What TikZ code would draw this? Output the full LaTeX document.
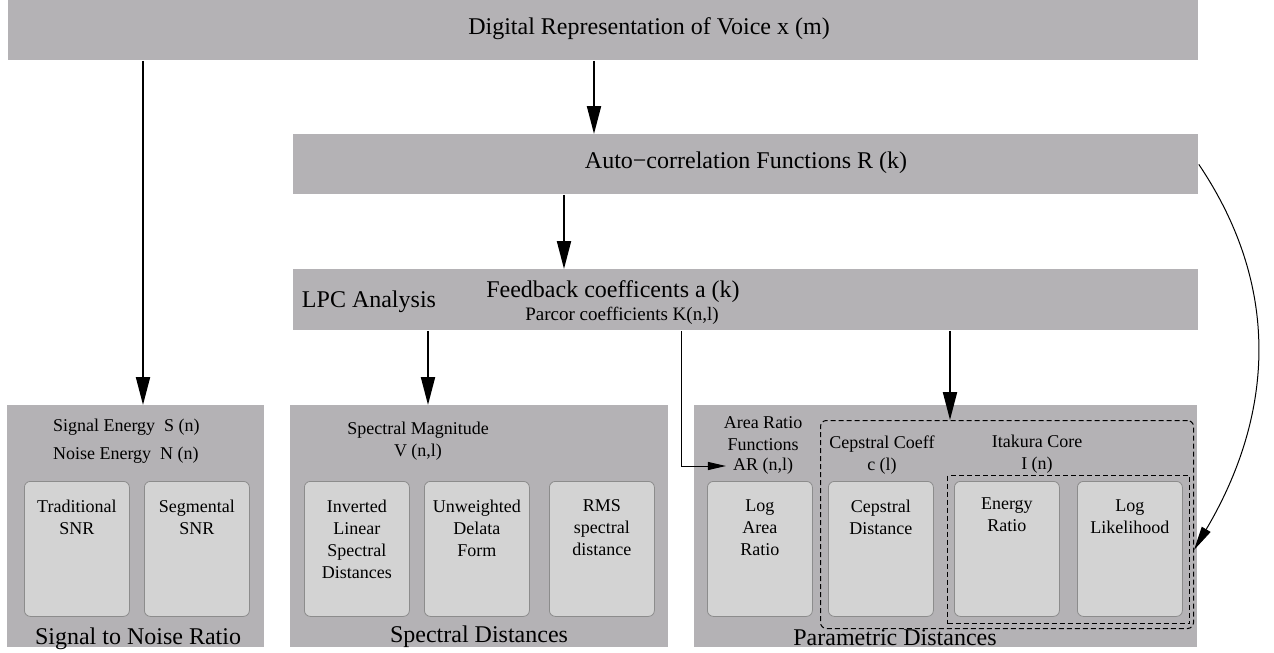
\documentclass[tikz,border=0pt]{standalone}
\usepackage{fontspec}
\setmainfont{Liberation Serif}
\usetikzlibrary{arrows.meta}
\definecolor{boxgray}{RGB}{180,178,181}
\definecolor{cellgray}{RGB}{211,211,211}
\definecolor{cellline}{RGB}{140,140,140}

\begin{document}
\begin{tikzpicture}[x=0.5pt,y=-0.5pt,
  band/.style={fill=boxgray,inner sep=0,anchor=north west},
  cell/.style={fill=cellgray,draw=cellline,line width=0.4pt,rounded corners=3pt,
    inner sep=0,anchor=north west,minimum width=52.5pt,minimum height=67.5pt},
  big/.style={font=\fontsize{12}{14}\selectfont},
  small/.style={font=\fontsize{9}{11}\selectfont,align=center},
  grp/.style={draw,dash pattern=on 2.5pt off 1.5pt,line width=0.5pt,inner sep=0,anchor=north west},
  arr/.style={line width=1pt,-{Triangle[length=14pt,width=7pt]}},
  thinarr/.style={line width=0.5pt,-{Triangle[length=9pt,width=4pt]}}]
  \useasboundingbox (0,0) rectangle (1274,653);

  % grey bands and blocks
  \node[band,minimum width=595pt,minimum height=30pt] (voice) at (8,0) {};
  \node[band,minimum width=452.5pt,minimum height=30pt] (acf) at (293,134) {};
  \node[band,minimum width=452.5pt,minimum height=30.5pt] (lpc) at (293,269) {};
  \node[band,minimum width=128.5pt,minimum height=121pt] (snr) at (7,405) {};
  \node[band,minimum width=189pt,minimum height=121pt] (spec) at (290,405) {};
  \node[band,minimum width=251.5pt,minimum height=121pt] (param) at (694,405) {};

  % measures
  \node[cell,label={[small,anchor=north,yshift=-6pt]north:Traditional\\SNR}] (trad) at (24,481) {};
  \node[cell,label={[small,anchor=north,yshift=-6pt]north:Segmental\\SNR}] (segm) at (144,481) {};
  \node[cell,label={[small,anchor=north,yshift=-6pt]north:Inverted\\Linear\\Spectral\\Distances}] (invlin) at (304,481) {};
  \node[cell,label={[small,anchor=north,yshift=-6pt]north:Unweighted\\Delata\\Form}] (unweig) at (424,481) {};
  \node[cell,label={[small,anchor=north,yshift=-6pt]north:RMS\\spectral\\distance}] (rms) at (549,481) {};
  \node[cell,label={[small,anchor=north,yshift=-6pt]north:Log\\Area\\Ratio}] (logar) at (707,481) {};
  \node[cell,label={[small,anchor=north,yshift=-6pt]north:Cepstral\\Distance}] (cepdist) at (828,481) {};
  \node[cell,label={[small,anchor=north,yshift=-5pt]north:Energy\\Ratio}] (enrat) at (954,481) {};
  \node[cell,label={[small,anchor=north,yshift=-6pt]north:Log\\Likelihood}] (loglik) at (1077,481) {};

  % dashed groups
  \node[grp,rounded corners=3pt,minimum width=186.5pt,minimum height=104pt] (cepgrp) at (820,420) {};
  \node[grp,minimum width=121pt,minimum height=74pt] (itkgrp) at (947,475) {};

  % texts
  \node[big] (title) at (649,29) {Digital Representation of Voice x (m)};
  \node[big] (acfname) at (746,163) {Auto−correlation Functions R (k)};
  \node[big] (lpcname) at (369,302) {LPC Analysis};
  \node[big] (fbk) at (613,292) {Feedback coefficents a (k)};
  \node[font=\fontsize{9.5}{11}\selectfont] (parcor) at (622,316) {Parcor coefficients K(n,l)};
  \node[small,anchor=west] (senergy) at (46,427) {Signal Energy\ \ S (n)};
  \node[small,anchor=west] (nenergy) at (46,455) {Noise Energy\ \ N (n)};
  \node[small] (specmag) at (418,441) {Spectral Magnitude\\V (n,l)};
  \node[small] (artitle) at (763,434) {Area Ratio\\Functions};
  \node[small] (arfn) at (763,466) {AR (n,l)};
  \node[small] (cepcoef) at (882,455) {Cepstral Coeff\\c (l)};
  \node[small] (itakura) at (1037,454) {Itakura Core\\I (n)};
  \node[big,anchor=base] (snrname) at (138,644) {Signal to Noise Ratio};
  \node[big,anchor=base] (specname) at (479,642) {Spectral Distances};
  \node[big,anchor=base] (paramname) at (895,645) {Parametric Distances};

  % connectors
  \draw[arr] (voice.south -| 143,0) -- (snr.north -| 143,0);
  \draw[arr] (voice.south -| 594,0) -- (acf.north -| 594,0);
  \draw[arr] (acf.south -| 564,0) -- (lpc.north -| 564,0);
  \draw[arr] (lpc.south -| 428,0) -- (spec.north -| 428,0);
  \draw[arr] (lpc.south -| 950,0) -- (cepgrp.north -| 950,0);
  \draw[thinarr] (lpc.south -| 681,0) |- (arfn.west);
  \draw[line width=0.5pt,-{Triangle[length=12pt,width=5pt]}] (acf.east)
    .. controls (1290,300) and (1265,430) .. (cepgrp.east |- 0,550);
\end{tikzpicture}
\end{document}
